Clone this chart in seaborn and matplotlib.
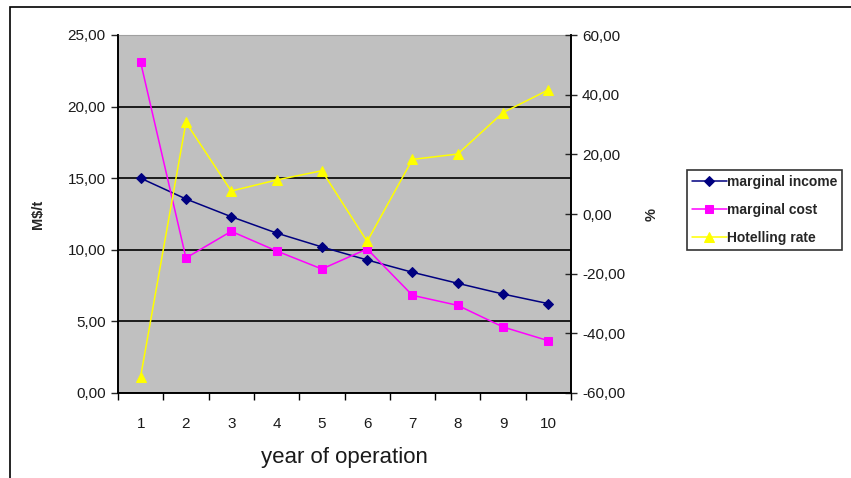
import matplotlib
matplotlib.use("Agg")
import matplotlib.pyplot as plt
import matplotlib.ticker as mticker
from matplotlib.patches import Rectangle
import seaborn as sns
import pandas as pd

years = [1, 2, 3, 4, 5, 6, 7, 8, 9, 10]
marginal_income = [15.0, 13.55, 12.31, 11.17, 10.2, 9.29, 8.43, 7.66, 6.91, 6.24]
marginal_cost = [23.09, 9.43, 11.29, 9.92, 8.66, 10.06, 6.82, 6.12, 4.61, 3.65]
hotelling_rate = [-54.5, 30.7, 7.7, 11.4, 14.5, -9.2, 18.3, 20.1, 34.0, 41.6]

sns.set_style("white")
plt.rcParams['font.family'] = ['Liberation Sans', 'DejaVu Sans']

fig = plt.figure(figsize=(8.51, 4.78), dpi=100)
ax = fig.add_axes([118/851, 1-393/478, (571-118)/851, (393-35)/478])
ax.set_facecolor("#C0C0C0")

df = pd.DataFrame({"year": years, "income": marginal_income, "cost": marginal_cost,
                   "hot": hotelling_rate})

sns.lineplot(data=df, x="year", y="income", ax=ax, color="#000080", marker="D",
             markersize=5, linewidth=1.1, markeredgecolor="#000080", label="marginal income",
             legend=False)
sns.lineplot(data=df, x="year", y="cost", ax=ax, color="#FF00FF", marker="s",
             markersize=6, linewidth=1.1, markeredgecolor="#FF00FF", label="marginal cost",
             legend=False)
ax.set_xlim(0.5, 10.5)
ax.set_ylim(0, 25)
ax.yaxis.set_major_locator(mticker.MultipleLocator(5))
ax.yaxis.set_major_formatter(mticker.FuncFormatter(lambda v, p: f"{v:.2f}".replace(".", ",")))
ax.grid(axis="y", color="black", linewidth=1.2)
ax.set_axisbelow(True)

ax2 = ax.twinx()
sns.lineplot(data=df, x="year", y="hot", ax=ax2, color="#FFFF00", marker="^",
             markersize=7, linewidth=1.1, markeredgecolor="#FFFF00", label="Hotelling rate",
             legend=False)
ax2.set_ylim(-60, 60)
ax2.yaxis.set_major_locator(mticker.MultipleLocator(20))
ax2.yaxis.set_major_formatter(mticker.FuncFormatter(lambda v, p: f"{v:.2f}".replace(".", ",")))
ax2.set_xlim(0.5, 10.5)

# x ticks at boundaries, labels at centres
ax.set_xticks([x + 0.5 for x in range(0, 11)])
ax.set_xticklabels([])
ax.set_xticks(years, minor=True)
ax.set_xticklabels([str(y) for y in years], minor=True)
ax.tick_params(axis="x", which="major", direction="out", length=5, width=1, color="black", bottom=True)
ax.tick_params(axis="x", which="minor", length=0, pad=17, labelsize=11, labelcolor="#1a1a1a")
ax.tick_params(axis="y", direction="out", length=5, width=1, left=True, labelsize=11, pad=4,
               labelcolor="#1a1a1a")
ax2.tick_params(axis="y", direction="inout", length=8, width=1, right=True, labelsize=11, pad=4,
                labelcolor="#1a1a1a")

for a in (ax, ax2):
    a.spines["top"].set_visible(False)
    for side in ("left", "right", "bottom"):
        a.spines[side].set_color("black")
        a.spines[side].set_linewidth(1.2)
ax.spines["top"].set_visible(True)
ax.spines["top"].set_color("#A0A0A0")
ax.spines["top"].set_linewidth(0.8)

ax.set_xlabel("year of operation", fontsize=16, labelpad=12, color="#1a1a1a")
ax.set_ylabel("M$/t", fontsize=10.5, fontweight="bold", labelpad=16)
ax2.set_ylabel("%", fontsize=10.5, fontweight="bold", labelpad=14)

h1, l1 = ax.get_legend_handles_labels()
h2, l2 = ax2.get_legend_handles_labels()
leg = fig.legend(h1 + h2, l1 + l2, loc="upper left",
                 bbox_to_anchor=(687/851, 1-170/478), frameon=True, fancybox=False,
                 edgecolor="black", fontsize=10, handlelength=2.5, handletextpad=0.0,
                 borderpad=0.35, labelspacing=1.0, borderaxespad=0)
leg.get_frame().set_linewidth(1.2)
for t in leg.get_texts():
    t.set_fontweight("bold")

# outer chart border
fig.patches.append(Rectangle((10/851, -0.02), 1.0, 1 - 7/478 + 0.02, transform=fig.transFigure,
                             fill=False, edgecolor="black", linewidth=1.2))

fig.savefig("out.png", dpi=100)
